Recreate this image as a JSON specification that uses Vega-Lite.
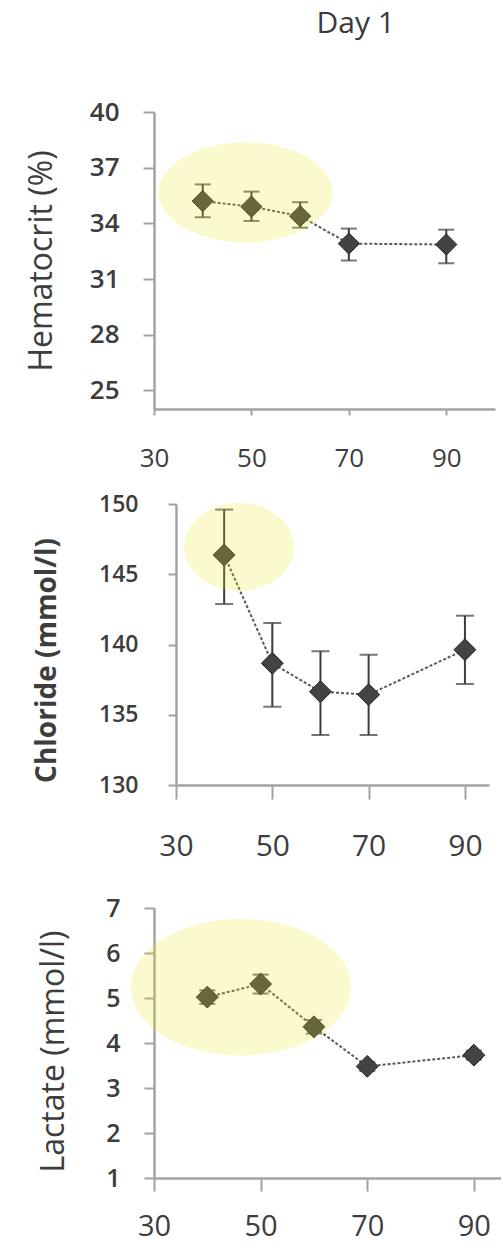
{
  "$schema": "https://vega.github.io/schema/vega-lite/v6.json",
  "padding": {"left": 25, "top": 9, "right": 0, "bottom": 3},
  "title": {"text": "Day 1", "fontSize": 30, "font": "Open Sans", "fontWeight": "normal", "color": "#3a3a3a", "anchor": "middle", "frame": "bounds", "dx": 93, "offset": 60},
  "spacing": 22,
  "config": {
    "view": {"stroke": null},
    "axis": {"grid": false, "domainColor": "#a3a3a3", "domainWidth": 2.5, "tickColor": "#a3a3a3", "tickWidth": 2, "labelFont": "Open Sans", "labelColor": "#3d3d3d", "titleFont": "Open Sans", "titleColor": "#3d3d3d", "titleFontWeight": "normal", "labelFlush": false, "labelOverlap": false, "labelBound": false},
    "axisY": {"labelFontWeight": 600}
  },
  "datasets": {
    "hct": [
      {"x": 40, "y": 35.2, "lo": 34.33, "hi": 36.1},
      {"x": 50, "y": 34.9, "lo": 34.13, "hi": 35.71},
      {"x": 60, "y": 34.39, "lo": 33.77, "hi": 35.14},
      {"x": 70, "y": 32.91, "lo": 32.0, "hi": 33.72},
      {"x": 90, "y": 32.86, "lo": 31.85, "hi": 33.66}
    ],
    "hctHi": [{"cx": 48.8, "cy": 35.67}],
    "cl": [
      {"x": 40, "y": 146.37, "lo": 142.88, "hi": 149.6},
      {"x": 50, "y": 138.66, "lo": 135.57, "hi": 141.53},
      {"x": 60, "y": 136.64, "lo": 133.56, "hi": 139.52},
      {"x": 70, "y": 136.43, "lo": 133.56, "hi": 139.27},
      {"x": 90, "y": 139.63, "lo": 137.19, "hi": 142.05}
    ],
    "clHi": [{"cx": 43.1, "cy": 146.94}],
    "lac": [
      {"x": 40, "y": 5.02, "lo": 4.87, "hi": 5.17},
      {"x": 50, "y": 5.31, "lo": 5.1, "hi": 5.52},
      {"x": 60, "y": 4.36, "lo": 4.21, "hi": 4.51},
      {"x": 70, "y": 3.48, "lo": 3.38, "hi": 3.58},
      {"x": 90, "y": 3.73, "lo": 3.63, "hi": 3.83}
    ],
    "lacHi": [{"cx": 46.3, "cy": 5.24}]
  },
  "vconcat": [
    {
      "width": 341,
      "height": 297,
      "layer": [
        {
          "data": {"name": "hct"},
          "mark": {"type": "line", "color": "#5a5a5a", "strokeWidth": 2, "strokeDash": [3, 2]},
          "encoding": {
            "x": {"field": "x", "type": "quantitative", "scale": {"domain": [30, 100]},
              "axis": {"values": [30, 50, 70, 90], "title": null, "labelFontSize": 26, "tickSize": 6, "labelPadding": 30}},
            "y": {"field": "y", "type": "quantitative", "scale": {"domain": [25, 40]},
              "axis": {"values": [25, 28, 31, 34, 37, 40], "title": "Hematocrit (%)", "titleFontSize": 32, "titleX": -103, "titleY": 148.5, "titleBaseline": "alphabetic", "titleAlign": "center", "titleAngle": -90, "labelFontSize": 26, "tickSize": 11, "labelPadding": 24}}
          }
        },
        {
          "data": {"name": "hct"},
          "mark": {"type": "rule", "color": "#3c3c3c", "strokeWidth": 2},
          "encoding": {
            "x": {"field": "x", "type": "quantitative"},
            "y": {"field": "lo", "type": "quantitative"},
            "y2": {"field": "hi"}
          }
        },
        {
          "data": {"name": "hct"},
          "mark": {"type": "tick", "orient": "horizontal", "size": 16, "thickness": 2, "color": "#3c3c3c"},
          "encoding": {
            "x": {"field": "x", "type": "quantitative"},
            "y": {"field": "lo", "type": "quantitative"}
          }
        },
        {
          "data": {"name": "hct"},
          "mark": {"type": "tick", "orient": "horizontal", "size": 16, "thickness": 2, "color": "#3c3c3c"},
          "encoding": {
            "x": {"field": "x", "type": "quantitative"},
            "y": {"field": "hi", "type": "quantitative"}
          }
        },
        {
          "data": {"name": "hct"},
          "mark": {"type": "point", "shape": "diamond", "filled": true, "size": 450, "color": "#434343", "stroke": "#262626", "strokeWidth": 1, "opacity": 1},
          "encoding": {
            "x": {"field": "x", "type": "quantitative"},
            "y": {"field": "y", "type": "quantitative"}
          }
        },
        {
          "data": {"name": "hctHi"},
          "mark": {"type": "point", "shape": "M -1 0 A 1 0.575 0 1 0 1 0 A 1 0.575 0 1 0 -1 0 Z", "filled": true, "size": 30276, "color": "#ebe61e", "opacity": 0.22, "strokeWidth": 0},
          "encoding": {
            "x": {"field": "cx", "type": "quantitative"},
            "y": {"field": "cy", "type": "quantitative"}
          }
        }
      ]
    },
    {
      "width": 335,
      "height": 281,
      "layer": [
        {
          "data": {"name": "cl"},
          "mark": {"type": "line", "color": "#5a5a5a", "strokeWidth": 2, "strokeDash": [3, 2]},
          "encoding": {
            "x": {"field": "x", "type": "quantitative", "scale": {"domain": [30, 95], "range": [22, 335]},
              "axis": {"values": [30, 50, 70, 90], "title": null, "labelFontSize": 30, "tickSize": 14, "labelPadding": 32, "minExtent": 89, "maxExtent": 89}},
            "y": {"field": "y", "type": "quantitative", "scale": {"domain": [130, 150]},
              "axis": {"values": [130, 135, 140, 145, 150], "offset": -22, "title": "Chloride (mmol/l)", "titleFontSize": 28, "titleFontWeight": "bold", "titleX": -121, "titleY": 156, "titleBaseline": "alphabetic", "titleAlign": "center", "titleAngle": -90, "labelFontSize": 23, "tickSize": 8, "labelPadding": 30}}
          }
        },
        {
          "data": {"name": "cl"},
          "mark": {"type": "rule", "color": "#3c3c3c", "strokeWidth": 2},
          "encoding": {
            "x": {"field": "x", "type": "quantitative"},
            "y": {"field": "lo", "type": "quantitative"},
            "y2": {"field": "hi"}
          }
        },
        {
          "data": {"name": "cl"},
          "mark": {"type": "tick", "orient": "horizontal", "size": 18, "thickness": 2, "color": "#3c3c3c"},
          "encoding": {
            "x": {"field": "x", "type": "quantitative"},
            "y": {"field": "lo", "type": "quantitative"}
          }
        },
        {
          "data": {"name": "cl"},
          "mark": {"type": "tick", "orient": "horizontal", "size": 18, "thickness": 2, "color": "#3c3c3c"},
          "encoding": {
            "x": {"field": "x", "type": "quantitative"},
            "y": {"field": "hi", "type": "quantitative"}
          }
        },
        {
          "data": {"name": "cl"},
          "mark": {"type": "point", "shape": "diamond", "filled": true, "size": 480, "color": "#434343", "stroke": "#262626", "strokeWidth": 1, "opacity": 1},
          "encoding": {
            "x": {"field": "x", "type": "quantitative"},
            "y": {"field": "y", "type": "quantitative"}
          }
        },
        {
          "data": {"name": "clHi"},
          "mark": {"type": "point", "shape": "M -1 0 A 1 0.8 0 1 0 1 0 A 1 0.8 0 1 0 -1 0 Z", "filled": true, "size": 12100, "color": "#ebe61e", "opacity": 0.22, "strokeWidth": 0},
          "encoding": {
            "x": {"field": "cx", "type": "quantitative"},
            "y": {"field": "cy", "type": "quantitative"}
          }
        }
      ]
    },
    {
      "width": 346.5,
      "height": 270,
      "layer": [
        {
          "data": {"name": "lac"},
          "mark": {"type": "line", "color": "#5a5a5a", "strokeWidth": 2, "strokeDash": [3, 2]},
          "encoding": {
            "x": {"field": "x", "type": "quantitative", "scale": {"domain": [30, 93]},
              "axis": {"values": [30, 50, 70, 90], "title": null, "labelFontSize": 29, "tickSize": 13, "labelPadding": 21}},
            "y": {"field": "y", "type": "quantitative", "scale": {"domain": [1, 7]},
              "axis": {"values": [1, 2, 3, 4, 5, 6, 7], "title": "Lactate (mmol/l)", "titleFontSize": 32, "titleX": -91, "titleY": 143, "titleBaseline": "alphabetic", "titleAlign": "center", "titleAngle": -90, "labelFontSize": 25, "tickSize": 10, "labelPadding": 24}}
          }
        },
        {
          "data": {"name": "lac"},
          "mark": {"type": "rule", "color": "#3c3c3c", "strokeWidth": 2},
          "encoding": {
            "x": {"field": "x", "type": "quantitative"},
            "y": {"field": "lo", "type": "quantitative"},
            "y2": {"field": "hi"}
          }
        },
        {
          "data": {"name": "lac"},
          "mark": {"type": "tick", "orient": "horizontal", "size": 16, "thickness": 2, "color": "#3c3c3c"},
          "encoding": {
            "x": {"field": "x", "type": "quantitative"},
            "y": {"field": "lo", "type": "quantitative"}
          }
        },
        {
          "data": {"name": "lac"},
          "mark": {"type": "tick", "orient": "horizontal", "size": 16, "thickness": 2, "color": "#3c3c3c"},
          "encoding": {
            "x": {"field": "x", "type": "quantitative"},
            "y": {"field": "hi", "type": "quantitative"}
          }
        },
        {
          "data": {"name": "lac"},
          "mark": {"type": "point", "shape": "diamond", "filled": true, "size": 480, "color": "#434343", "stroke": "#262626", "strokeWidth": 1, "opacity": 1},
          "encoding": {
            "x": {"field": "x", "type": "quantitative"},
            "y": {"field": "y", "type": "quantitative"}
          }
        },
        {
          "data": {"name": "lacHi"},
          "mark": {"type": "point", "shape": "M -1 0 A 1 0.62 0 1 0 1 0 A 1 0.62 0 1 0 -1 0 Z", "filled": true, "size": 48400, "color": "#ebe61e", "opacity": 0.22, "strokeWidth": 0},
          "encoding": {
            "x": {"field": "cx", "type": "quantitative"},
            "y": {"field": "cy", "type": "quantitative"}
          }
        }
      ]
    }
  ]
}
